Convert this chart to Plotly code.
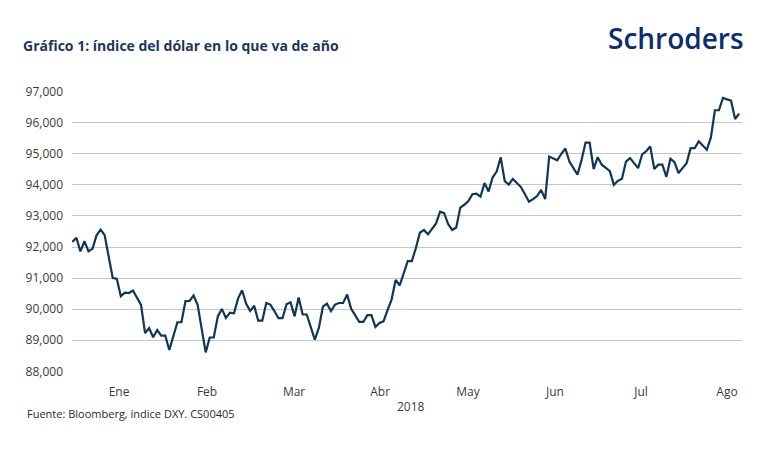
import pandas as pd
import plotly.graph_objects as go

# ---- data ----
start_date = "2018-01-02"
dxy_values = [
    92160, 92300, 91860, 92190, 91860, 91950, 92380, 92560, 92380, 91730,
    91000, 90980, 90420, 90530, 90520, 90600, 90390, 90140, 89230, 89390,
    89100, 89330, 89150, 89150, 88690, 89150, 89580, 89580, 90260, 90270,
    90440, 90140, 89380, 88610, 89090, 89090, 89770, 90010, 89720, 89890,
    89870, 90340, 90610, 90180, 89940, 90110, 89630, 89630, 90200, 90150,
    89940, 89710, 89710, 90160, 90220, 89770, 90380, 89830, 89830, 89430,
    89020, 89400, 90080, 90180, 89940, 90150, 90200, 90200, 90470, 90010,
    89800, 89590, 89590, 89810, 89810, 89430, 89560, 89610, 89970, 90310,
    90940, 90770, 91150, 91550, 91550, 91960, 92460, 92550, 92410, 92570,
    92760, 93140, 93090, 92740, 92550, 92630, 93270, 93360, 93480, 93700,
    93720, 93620, 94060, 93790, 94240, 94430, 94890, 94120, 94010, 94190,
    94070, 93930, 93700, 93460, 93540, 93640, 93840, 93540, 94910, 94860,
    94790, 95000, 95170, 94750, 94540, 94330, 94800, 95360, 95360, 94510,
    94890, 94650, 94550, 94440, 94000, 94130, 94200, 94750, 94860, 94700,
    94540, 94980, 95080, 95240, 94510, 94650, 94650, 94260, 94840, 94730,
    94380, 94540, 94700, 95180, 95180, 95400, 95260, 95130, 95520, 96400,
    96400, 96800, 96750, 96710, 96120, 96290,
]
month_labels = ["Ene", "Feb", "Mar", "Abr", "May", "Jun", "Jul", "Ago"]
month_label_dates = [
    "2018-01-17 13:30", "2018-02-16 08:00", "2018-03-19 21:00", "2018-04-18 04:00",
    "2018-05-17 21:30", "2018-06-18 10:00", "2018-07-17 17:00", "2018-08-16 00:00",
]
x_range = ["2018-01-01 22:00", "2018-08-21 17:00"]
y_ticks = list(range(88000, 97001, 1000))

dates = pd.bdate_range(start_date, periods=len(dxy_values))

FONT = "Open Sans"
NAVY = "#1b365d"

fig = go.Figure(
    go.Scatter(
        x=dates, y=dxy_values, mode="lines",
        line=dict(color="#0d3658", width=2.2),
        hoverinfo="skip",
    )
)

fig.update_layout(
    width=770, height=453,
    margin=dict(l=72, r=28, t=91, b=81),
    paper_bgcolor="white", plot_bgcolor="white",
    showlegend=False,
    font=dict(family=FONT, size=12, color="#3a3a3a"),
    title=dict(
        text="<b>Gráfico 1: índice del dólar en lo que va de año</b>",
        xref="container", yref="container",
        x=23 / 770, xanchor="left", y=1 - 46 / 453, yanchor="middle",
        font=dict(family=FONT, size=14, color=NAVY),
    ),
    xaxis=dict(
        type="date",
        rangebreaks=[dict(bounds=["sat", "mon"])],
        range=x_range,
        tickmode="array", tickvals=month_label_dates, ticktext=month_labels,
        showgrid=False, showline=False, zeroline=False, ticks="",
        ticklabelstandoff=11,
        tickfont=dict(family=FONT, size=12, color="#3a3a3a"),
    ),
    yaxis=dict(
        range=[87980, 97020],
        tickmode="array", tickvals=y_ticks,
        tickformat=",.0f",
        showgrid=True, gridcolor="#c6c6c6", gridwidth=1.3,
        showline=False, zeroline=False, ticks="",
        ticklabelstandoff=8,
        tickfont=dict(family=FONT, size=12, color="#3a3a3a"),
    ),
    annotations=[
        dict(text="2018", xref="paper", yref="paper", x=0.506, y=-0.121,
             xanchor="center", yanchor="middle", showarrow=False,
             font=dict(family=FONT, size=12, color="#3a3a3a")),
        dict(text="Fuente: Bloomberg, índice DXY. CS00405", xref="paper", yref="paper",
             x=-0.0701, y=-0.146, xanchor="left", yanchor="middle", showarrow=False,
             font=dict(family=FONT, size=11, color="#2a2a2a")),
        dict(text="Schroders", xref="paper", yref="paper", x=1.006, y=1.1886,
             xanchor="right", yanchor="middle", showarrow=False,
             font=dict(family=FONT, size=28, color="#0b2d71", weight=600)),
    ],
)

fig.write_html(
    "out.html",
    config={"displayModeBar": False},
    post_script="document.body.style.margin='0';document.body.style.padding='0';",
)
